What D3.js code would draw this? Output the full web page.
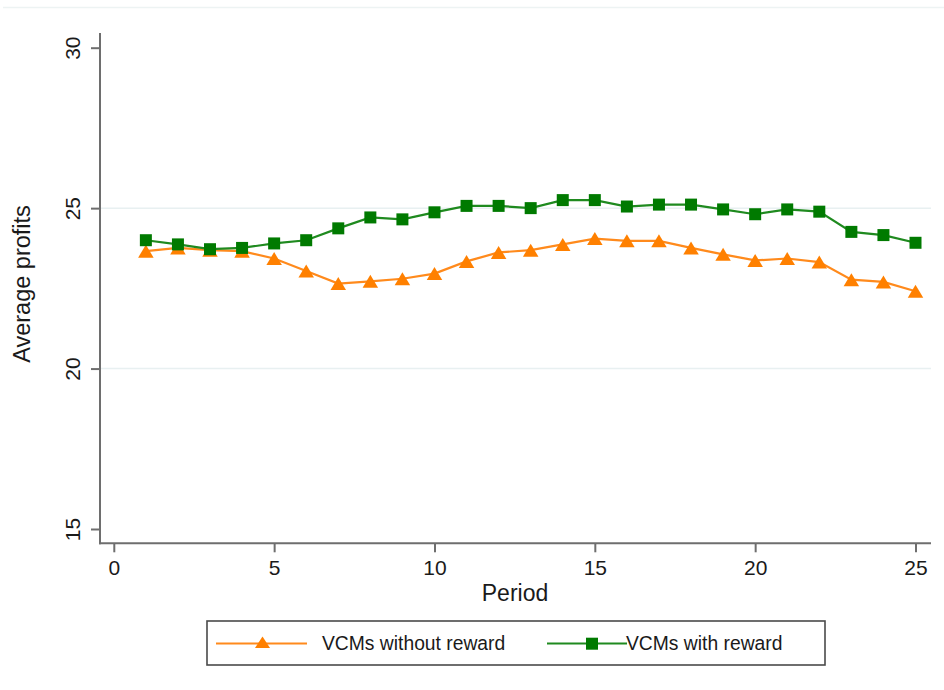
<!DOCTYPE html>
<html>
<head>
<meta charset="utf-8">
<script src="https://cdn.jsdelivr.net/npm/d3@7"></script>
<style>
  html, body { margin: 0; padding: 0; background: #ffffff; }
  svg { display: block; font-family: "Liberation Sans", Arial, Helvetica, sans-serif; }
</style>
</head>
<body>
<svg id="chart" width="944" height="690"></svg>
<script>
// ---- data ----
const periods = [1,2,3,4,5,6,7,8,9,10,11,12,13,14,15,16,17,18,19,20,21,22,23,24,25];
const withoutReward = [23.66,23.76,23.69,23.66,23.43,23.04,22.65,22.72,22.80,22.96,23.34,23.62,23.69,23.87,24.05,23.98,23.98,23.76,23.56,23.37,23.43,23.32,22.77,22.70,22.41];
const withReward = [24.00,23.87,23.72,23.76,23.90,24.00,24.37,24.71,24.65,24.87,25.07,25.07,25.00,25.25,25.25,25.05,25.11,25.11,24.96,24.81,24.96,24.89,24.26,24.16,23.92];
const xTicks = [0,5,10,15,20,25];
const yTicks = [15,20,25,30];
const gridValues = [20,25];
const seriesNames = ["VCMs without reward", "VCMs with reward"];

const svg = d3.select("#chart");
const x = d3.scaleLinear().domain([0,25]).range([113.8, 915.5]);
const y = d3.scaleLinear().domain([15,30]).range([529, 47.7]);

const axisColor = "#6e6e6e";
const orange = "#ff8000", orangeLine = "#ff8a1c";
const green = "#007a00", greenLine = "#1f8a1f";

// faint top border
svg.append("line").attr("x1",3).attr("x2",944).attr("y1",7.5).attr("y2",7.5)
  .attr("stroke","#edf3f3").attr("stroke-width",1.5);

// gridlines
svg.append("g").selectAll("line").data(gridValues).join("line")
  .attr("x1",101).attr("x2",931)
  .attr("y1",d=>y(d)).attr("y2",d=>y(d))
  .attr("stroke","#e8f0f1").attr("stroke-width",1.5);

// axes
const yAxis = d3.axisLeft(y).tickValues(yTicks).tickSize(9).tickFormat(d3.format("d"));
const gy = svg.append("g").attr("transform","translate(100,0)").call(yAxis);
gy.select(".domain").remove();
gy.selectAll(".tick line").attr("stroke",axisColor).attr("stroke-width",2);
gy.selectAll(".tick text")
  .attr("x",null).attr("dy",null)
  .attr("transform","translate(-20,0) rotate(-90)")
  .attr("text-anchor","middle")
  .attr("font-size",21).attr("fill","#1a1a1a")
  .style("font-family","'Liberation Sans', Arial, sans-serif");

const xAxis = d3.axisBottom(x).tickValues(xTicks).tickSize(9).tickFormat(d3.format("d"));
const gx = svg.append("g").attr("transform","translate(0,543.3)").call(xAxis);
gx.select(".domain").remove();
gx.selectAll(".tick line").attr("stroke",axisColor).attr("stroke-width",2);
gx.selectAll(".tick text")
  .attr("y",32).attr("dy",null)
  .attr("font-size",21).attr("fill","#1a1a1a")
  .style("font-family","'Liberation Sans', Arial, sans-serif");

// axis lines
svg.append("line").attr("x1",100).attr("x2",100).attr("y1",33).attr("y2",544.3)
  .attr("stroke",axisColor).attr("stroke-width",2);
svg.append("line").attr("x1",99).attr("x2",931).attr("y1",543.3).attr("y2",543.3)
  .attr("stroke",axisColor).attr("stroke-width",2);

// titles
svg.append("text").attr("transform","translate(30,284) rotate(-90)")
  .attr("text-anchor","middle").attr("font-size",23.5).attr("fill","#1a1a1a")
  .text("Average profits");
svg.append("text").attr("x",515).attr("y",601)
  .attr("text-anchor","middle").attr("font-size",23).attr("fill","#1a1a1a")
  .text("Period");

// lines
const line = d3.line().x((d,i)=>x(periods[i])).y(d=>y(d));
svg.append("path").datum(withoutReward).attr("d",line)
  .attr("fill","none").attr("stroke",orangeLine).attr("stroke-width",2.2);
svg.append("path").datum(withReward).attr("d",line)
  .attr("fill","none").attr("stroke",greenLine).attr("stroke-width",2.2);

// markers
const triPath = (w,h) => `M0,${-h/2}L${w/2},${h/2}L${-w/2},${h/2}Z`;
svg.append("g").selectAll("path").data(withoutReward).join("path")
  .attr("d",triPath(15.5,13))
  .attr("transform",(d,i)=>`translate(${x(periods[i])},${y(d)})`)
  .attr("fill",orange);
const sq = 12;
svg.append("g").selectAll("rect").data(withReward).join("rect")
  .attr("x",(d,i)=>x(periods[i])-sq/2).attr("y",d=>y(d)-sq/2)
  .attr("width",sq).attr("height",sq)
  .attr("fill",green);

// legend
const lg = svg.append("g");
lg.append("rect").attr("x",207).attr("y",621).attr("width",618).attr("height",44)
  .attr("fill","#ffffff").attr("stroke","#4a4a4a").attr("stroke-width",1.6);
const legendItems = [
  {name: seriesNames[0], x1:216, x2:307, mx:262.5, tx:322, color:orangeLine, mcolor:orange, type:"tri"},
  {name: seriesNames[1], x1:547, x2:627, mx:592, tx:626, color:greenLine, mcolor:green, type:"sq"}
];
legendItems.forEach(it=>{
  lg.append("line").attr("x1",it.x1).attr("x2",it.x2).attr("y1",643.5).attr("y2",643.5)
    .attr("stroke",it.color).attr("stroke-width",2.2);
  if (it.type==="tri") {
    lg.append("path").attr("d",triPath(15,11.5))
      .attr("transform",`translate(${it.mx},${642.2})`).attr("fill",it.mcolor);
  } else {
    lg.append("rect").attr("x",it.mx-6).attr("y",643.7-6).attr("width",12).attr("height",12)
      .attr("fill",it.mcolor);
  }
  lg.append("text").attr("x",it.tx).attr("y",650).attr("font-size",19.3)
    .attr("fill","#1a1a1a").text(it.name);
});
</script>
</body>
</html>
